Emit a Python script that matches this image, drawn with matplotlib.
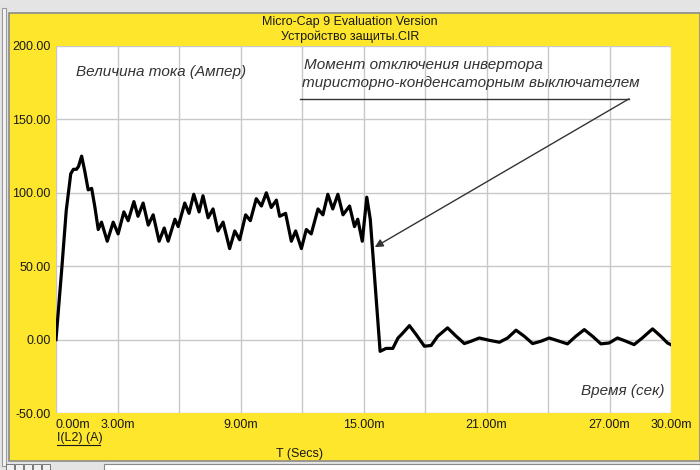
import matplotlib.pyplot as plt
from matplotlib.patches import Rectangle

# данные: t в мс, ток I(L2) в амперах
t_ms = [0, 0.28, 0.5, 0.72, 0.85, 1.0, 1.1, 1.25, 1.4, 1.57, 1.74, 1.9, 2.06, 2.22, 2.5,
        2.79, 3.03, 3.31, 3.52, 3.8, 4.0, 4.25, 4.5, 4.74, 5.03, 5.28, 5.47, 5.8, 5.96,
        6.28, 6.49, 6.72, 6.98, 7.17, 7.42, 7.66, 7.9, 8.15, 8.47, 8.72, 8.96, 9.25,
        9.48, 9.77, 10.02, 10.26, 10.5, 10.75, 10.91, 11.2, 11.48, 11.69, 11.97, 12.21,
        12.45, 12.78, 13.02, 13.26, 13.5, 13.75, 14.0, 14.32, 14.56, 14.72, 14.94,
        15.16, 15.33, 15.81, 16.1, 16.43, 16.68, 16.92, 17.24, 17.57, 17.97, 18.3,
        18.62, 19.1, 19.52, 19.92, 20.25, 20.65, 21.14, 21.63, 22.03, 22.44, 22.84,
        23.25, 23.66, 24.06, 24.55, 24.95, 25.36, 25.77, 26.17, 26.58, 26.98, 27.39,
        27.8, 28.2, 28.6, 29.1, 29.5, 29.83, 30.0]
i_amp = [0, 48, 88, 113, 116, 116, 118, 125, 115, 102, 103, 90, 75, 80, 67,
         80, 72, 87, 81, 94, 84, 93, 78, 85, 67, 76, 67, 82, 77,
         93, 86, 99, 87, 98, 83, 89, 74, 80, 62, 74, 68, 85,
         81, 96, 91, 100, 90, 95, 84, 86, 67, 74, 62, 75,
         72, 89, 85, 99, 89, 99, 85, 91, 77, 82, 67,
         97, 82, -8, -6, -6, 1, 4.5, 9.5, 3.4, -4.5, -4,
         2.3, 8, 2.3, -2.7, -1.1, 1.1, -0.5, -1.8, 1.1, 6.4, 2.3,
         -2.7, -1.1, 1.1, -1.1, -2.9, 2.3, 6.8, 2.3, -2.9, -2.3, 1.1,
         -1.1, -3.4, 1.1, 7.3, 2.3, -2.3, -3.5]

x_grid = [0, 3, 6, 9, 12, 15, 18, 21, 24, 27, 30]
x_labels = ['0.00m', '3.00m', '', '9.00m', '', '15.00m', '', '21.00m', '', '27.00m', '30.00m']
y_grid = [-50, 0, 50, 100, 150, 200]
y_labels = ['-50.00', '0.00', '50.00', '100.00', '150.00', '200.00']

W, H = 700, 470
YEL = '#fde62c'

def fx(px):
    return px / W

def fy(py):
    return 1 - py / H

fig = plt.figure(figsize=(7, 4.7), dpi=100, facecolor='#e4e4e4')

# рамка окна и жёлтый фон
fig.patches.append(Rectangle((fx(9), fy(461)), fx(691), 448 / H, transform=fig.transFigure,
                             facecolor=YEL, edgecolor='#8a8a8a', lw=1.2, zorder=-10))
fig.patches.append(Rectangle((fx(2), fy(466)), fx(4), 458 / H, transform=fig.transFigure,
                             facecolor='#f4f4f4', edgecolor='#9a9a9a', lw=0.8, zorder=-10))
fig.patches.append(Rectangle((fx(104), fy(470)), fx(596), 6 / H, transform=fig.transFigure,
                             facecolor='white', edgecolor='#888888', lw=0.8, zorder=-10))
for k in range(5):
    fig.patches.append(Rectangle((fx(6 + 9 * k), fy(470)), fx(8), 6 / H, transform=fig.transFigure,
                                 facecolor='#f0f0f0', edgecolor='#666666', lw=0.6, zorder=-10))

ax = fig.add_axes([fx(56), fy(413), fx(615), 367 / H])
ax.set_facecolor('white')
for s in ax.spines.values():
    s.set_visible(False)

ax.plot(t_ms, i_amp, color='black', lw=2.3, solid_joinstyle='round', zorder=3)

ax.set_xlim(0, 30)
ax.set_ylim(-50, 200)
ax.set_xticks(x_grid)
ax.set_xticklabels(x_labels, fontsize=9, family='Liberation Sans', color='#1a1a1a')
ax.set_yticks(y_grid)
ax.set_yticklabels(y_labels, fontsize=9, family='Liberation Sans', color='#1a1a1a')
ax.get_xticklabels()[0].set_ha('left')
ax.tick_params(length=0, pad=4)
ax.grid(True, color='#c8c8c8', lw=1.0)
ax.set_axisbelow(True)

# заголовок
fig.text(0.5, fy(22), 'Micro-Cap 9 Evaluation Version', ha='center', va='center',
         fontsize=9, family='Liberation Sans', color='#1a1a1a')
fig.text(0.5, fy(37), 'Устройство защиты.CIR', ha='center', va='center',
         fontsize=9, family='Liberation Sans', color='#1a1a1a')

# подписи под осью
fig.text(fx(57), fy(438), 'I(L2) (A)', ha='left', va='center', fontsize=9,
         family='Liberation Sans', color='#1a1a1a')
fig.add_artist(plt.Line2D([fx(57), fx(100)], [fy(445), fy(445)], color='#1a1a1a', lw=0.8))
fig.text(fx(300), fy(454), 'T (Secs)', ha='center', va='center', fontsize=9,
         family='Liberation Sans', color='#1a1a1a')

# надписи на поле графика
ax.text(0.97, 182, 'Величина тока (Ампер)', ha='left', va='center', fontsize=11,
        style='italic', family='Liberation Sans', color='#333333')
ax.text(29.7, -35, 'Время (сек)', ha='right', va='center', fontsize=11,
        style='italic', family='Liberation Sans', color='#333333')
ax.text(12.1, 187, 'Момент отключения инвертора', ha='left', va='center', fontsize=11,
        style='italic', family='Liberation Sans', color='#333333')
ax.text(12.0, 175, 'тиристорно-конденсаторным выключателем', ha='left', va='center',
        fontsize=11, style='italic', family='Liberation Sans', color='#333333')
ax.plot([11.9, 27.95], [164, 164], color='#333333', lw=1.0, zorder=4)
ax.annotate('', xy=(15.55, 63), xytext=(27.95, 164),
            arrowprops=dict(arrowstyle='-|>', color='#333333', lw=1.0,
                            mutation_scale=12, shrinkA=0, shrinkB=0), zorder=4)

fig.savefig('out.png', dpi=100, facecolor=fig.get_facecolor())
